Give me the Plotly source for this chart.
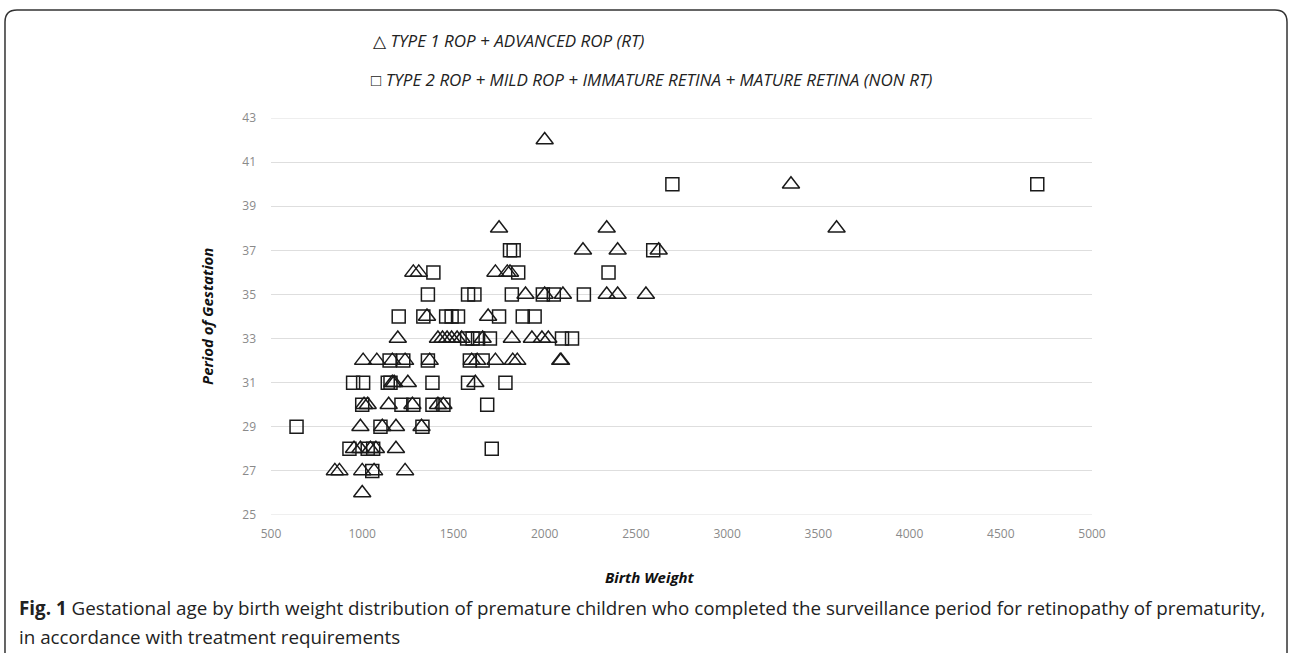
import plotly.graph_objects as go

# ---- data ----
rt_weight = [2000,
             3350,
             1750, 2340, 3600,
             2210, 2400, 2625,
             1280, 1310, 1730, 1795, 1810,
             1895, 2000, 2100, 2340, 2400, 2555,
             1355, 1690,
             1195, 1415, 1440, 1465, 1490, 1520, 1545, 1660, 1820, 1930, 1985, 2020,
             1005, 1080, 1165, 1235, 1370, 1600, 1630, 1730, 1825, 1850, 2085, 2090,
             1165, 1175, 1250, 1620,
             1010, 1030, 1145, 1275, 1415, 1445,
             990, 1110, 1185, 1325,
             955, 990, 1045, 1075, 1185,
             850, 875, 1000, 1065, 1235,
             1000]
rt_gestation = [42,
                40,
                38, 38, 38,
                37, 37, 37,
                36, 36, 36, 36, 36,
                35, 35, 35, 35, 35, 35,
                34, 34,
                33, 33, 33, 33, 33, 33, 33, 33, 33, 33, 33, 33,
                32, 32, 32, 32, 32, 32, 32, 32, 32, 32, 32, 32,
                31, 31, 31, 31,
                30, 30, 30, 30, 30, 30,
                29, 29, 29, 29,
                28, 28, 28, 28, 28,
                27, 27, 27, 27, 27,
                26]

nonrt_weight = [2700, 4700,
                1810, 1830, 2595,
                1390, 1855, 2350,
                1360, 1580, 1615, 1820, 1990, 2050, 2215,
                1200, 1335, 1460, 1490, 1525, 1750, 1880, 1945,
                1575, 1605, 1635, 1700, 2095, 2150,
                1150, 1225, 1360, 1590, 1660,
                950, 1005, 1140, 1155, 1385, 1580, 1785,
                1000, 1215, 1280, 1385, 1445, 1685,
                640, 1100, 1330,
                930, 1030, 1060, 1710,
                1055]
nonrt_gestation = [40, 40,
                   37, 37, 37,
                   36, 36, 36,
                   35, 35, 35, 35, 35, 35, 35,
                   34, 34, 34, 34, 34, 34, 34, 34,
                   33, 33, 33, 33, 33, 33,
                   32, 32, 32, 32, 32,
                   31, 31, 31, 31, 31, 31, 31,
                   30, 30, 30, 30, 30, 30,
                   29, 29, 29,
                   28, 28, 28, 28,
                   27]

x_ticks = [500, 1000, 1500, 2000, 2500, 3000, 3500, 4000, 4500, 5000]
y_ticks = [25, 27, 29, 31, 33, 35, 37, 39, 41, 43]

legend_rt = "△ <i>TYPE 1 ROP + ADVANCED ROP (RT)</i>"
legend_nonrt = "□ <i>TYPE 2 ROP + MILD ROP + IMMATURE RETINA + MATURE RETINA (NON RT)</i>"
x_title = "<b><i>Birth Weight</i></b>"
y_title = "<b><i>Period of Gestation</i></b>"
caption_1 = ("<b>Fig. 1</b> Gestational age by birth weight distribution of premature children "
             "who completed the surveillance period for retinopathy of prematurity,")
caption_2 = "in accordance with treatment requirements"

# ---- layout geometry (pixels) ----
W, H = 1292, 653
PL, PR, PT, PB = 271, 1092, 118, 515


def xp(px):
    return (px - PL) / (PR - PL)


def yp(py):
    return (PB - py) / (PB - PT)


fig = go.Figure()
fig.add_trace(go.Scatter(
    x=rt_weight, y=rt_gestation, mode="markers", name="RT",
    marker=dict(symbol="triangle-up-open", size=15, color="#1a1a1a",
                line=dict(width=1.5, color="#1a1a1a")),
))
fig.add_trace(go.Scatter(
    x=nonrt_weight, y=nonrt_gestation, mode="markers", name="NON RT",
    marker=dict(symbol="square-open", size=13, color="#1a1a1a",
                line=dict(width=1.5, color="#1a1a1a")),
))

GRID = "#dedede"
tick_font = dict(family="Open Sans", size=12, color="#8a8a8a")
fig.update_xaxes(range=[500, 5000], tickvals=x_ticks, showgrid=False, zeroline=False,
                 showline=False, tickfont=tick_font, ticklabelstandoff=10)
fig.update_yaxes(range=[25, 43], tickvals=y_ticks, showgrid=True, gridcolor=GRID,
                 gridwidth=1, zeroline=False, showline=False, tickfont=tick_font,
                 ticklabelstandoff=14)

leg_font = dict(family="Open Sans", size=17, color="#222")
ann = []
ann.append(dict(x=xp(371), y=yp(41), xref="paper", yref="paper", text=legend_rt,
                showarrow=False, xanchor="left", yanchor="middle", font=leg_font))
ann.append(dict(x=xp(369), y=yp(80), xref="paper", yref="paper", text=legend_nonrt,
                showarrow=False, xanchor="left", yanchor="middle", font=leg_font))
ann.append(dict(x=xp(650), y=yp(577), xref="paper", yref="paper", text=x_title,
                showarrow=False, xanchor="center", yanchor="middle",
                font=dict(family="Open Sans", size=15, color="#111")))
ann.append(dict(x=xp(207), y=yp(317), xref="paper", yref="paper", text=y_title,
                showarrow=False, xanchor="center", yanchor="middle", textangle=-90,
                font=dict(family="Open Sans", size=15, color="#111")))
cap_font = dict(family="Open Sans", size=18.8, color="#222")
ann.append(dict(x=xp(17), y=yp(608), xref="paper", yref="paper", text=caption_1,
                showarrow=False, xanchor="left", yanchor="middle", font=cap_font))
ann.append(dict(x=xp(17), y=yp(637), xref="paper", yref="paper", text=caption_2,
                showarrow=False, xanchor="left", yanchor="middle", font=cap_font))


def pt(px, py):
    return f"{xp(px):.5f},{yp(py):.5f}"


border = (f"M{pt(5, 660)} L{pt(5, 22)} Q{pt(5, 10)} {pt(17, 10)} "
          f"L{pt(1275, 10)} Q{pt(1287, 10)} {pt(1287, 22)} L{pt(1287, 660)}")

shapes = [dict(type="line", xref="paper", yref="y", x0=0, x1=1, y0=v, y1=v,
               line=dict(color=GRID, width=1), layer="below")
          for v in (y_ticks[0], y_ticks[-1])]
shapes.append(dict(type="path", path=border, xref="paper", yref="paper",
                   line=dict(color="#333", width=1.5), layer="above"))

fig.update_layout(
    width=W, height=H, autosize=False,
    margin=dict(l=PL, r=W - PR, t=PT, b=H - PB, pad=0),
    paper_bgcolor="white", plot_bgcolor="white",
    showlegend=False,
    annotations=ann,
    shapes=shapes,
)

fig.write_html("out.html", config={"displayModeBar": False},
               post_script="document.body.style.margin='0';")
